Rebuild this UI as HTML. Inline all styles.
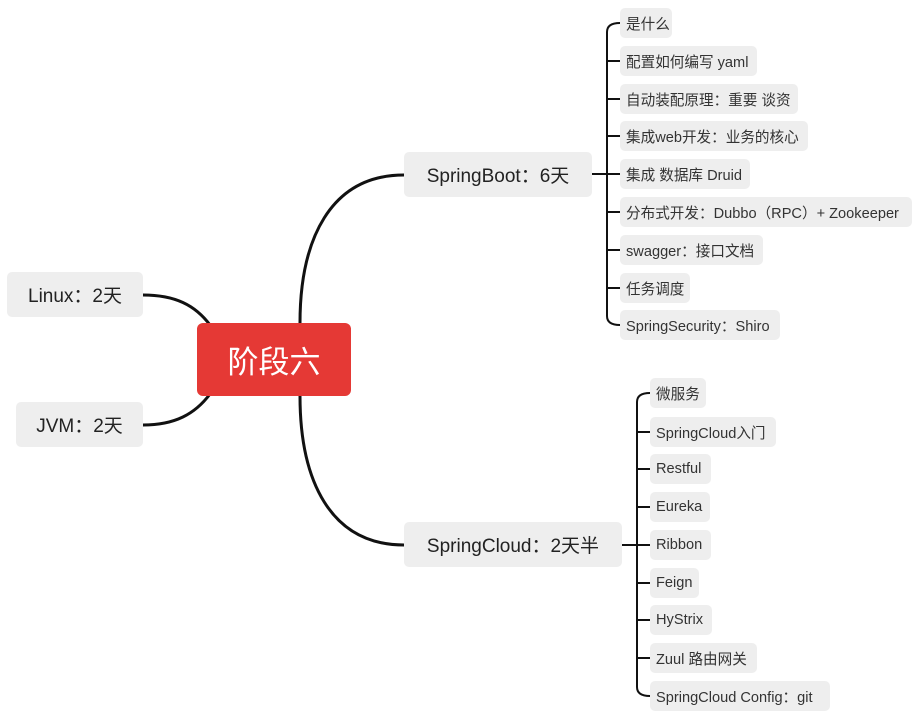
<!DOCTYPE html>
<html><head><meta charset="utf-8"><style>
body{margin:0;width:922px;height:718px;background:#fff;position:relative;overflow:hidden;font-family:"Liberation Sans","Noto Sans CJK SC",sans-serif;}
.b{position:absolute;background:#eeeeee;border-radius:5px;color:#333;box-sizing:border-box;display:flex;align-items:center;white-space:nowrap}
.c{font-size:14.6px;height:30px;padding-left:6px}
.m{font-size:19px;height:45px;justify-content:center;color:#222}
svg{position:absolute;left:0;top:0}
</style></head><body>
<svg width="922" height="718" fill="none" stroke="#111" stroke-width="3">
<path d="M300,323 C300,240 330,175 404,175"/>
<path d="M300,396 C300,480 330,545 404,545"/>
<path d="M210,325 C195,305 175,295 143,295"/>
<path d="M210,394 C195,414 175,425 143,425"/>
<g stroke-width="2">
<path d="M592,174 H620"/>
<path d="M607,32 V316"/>
<path d="M620,23 Q607,23 607,32 M620,325 Q607,325 607,316"/>
<path d="M607,61 H620 M607,99 H620 M607,136 H620 M607,212 H620 M607,250 H620 M607,288 H620"/>
<path d="M622,545 H650"/>
<path d="M637,402 V687"/>
<path d="M650,393 Q637,393 637,402 M650,696 Q637,696 637,687"/>
<path d="M637,432 H650 M637,469 H650 M637,507 H650 M637,583 H650 M637,620 H650 M637,658 H650"/>
</g>
</svg>
<div class="b" style="left:197px;top:323px;width:154px;height:73px;background:#e53935;color:#fff;font-size:31px;justify-content:center;border-radius:6px">阶段六</div>
<div class="b m" style="left:7px;top:272px;width:136px">Linux：2天</div>
<div class="b m" style="left:16px;top:402px;width:127px">JVM：2天</div>
<div class="b m" style="left:404px;top:152px;width:188px">SpringBoot：6天</div>
<div class="b m" style="left:404px;top:522px;width:218px">SpringCloud：2天半</div>

<div class="b c" style="left:620px;top:8px;width:52px">是什么</div>
<div class="b c" style="left:620px;top:46px;width:137px">配置如何编写 yaml</div>
<div class="b c" style="left:620px;top:84px;width:178px">自动装配原理：重要 谈资</div>
<div class="b c" style="left:620px;top:121px;width:188px">集成web开发：业务的核心</div>
<div class="b c" style="left:620px;top:159px;width:130px">集成 数据库 Druid</div>
<div class="b c" style="left:620px;top:197px;width:292px">分布式开发：Dubbo（RPC）+ Zookeeper</div>
<div class="b c" style="left:620px;top:235px;width:143px">swagger：接口文档</div>
<div class="b c" style="left:620px;top:273px;width:70px">任务调度</div>
<div class="b c" style="left:620px;top:310px;width:160px">SpringSecurity：Shiro</div>

<div class="b c" style="left:650px;top:378px;width:56px">微服务</div>
<div class="b c" style="left:650px;top:417px;width:126px">SpringCloud入门</div>
<div class="b c" style="left:650px;top:454px;width:61px">Restful</div>
<div class="b c" style="left:650px;top:492px;width:60px">Eureka</div>
<div class="b c" style="left:650px;top:530px;width:61px">Ribbon</div>
<div class="b c" style="left:650px;top:568px;width:49px">Feign</div>
<div class="b c" style="left:650px;top:605px;width:62px">HyStrix</div>
<div class="b c" style="left:650px;top:643px;width:107px">Zuul 路由网关</div>
<div class="b c" style="left:650px;top:681px;width:180px">SpringCloud Config：git</div>
</body></html>
